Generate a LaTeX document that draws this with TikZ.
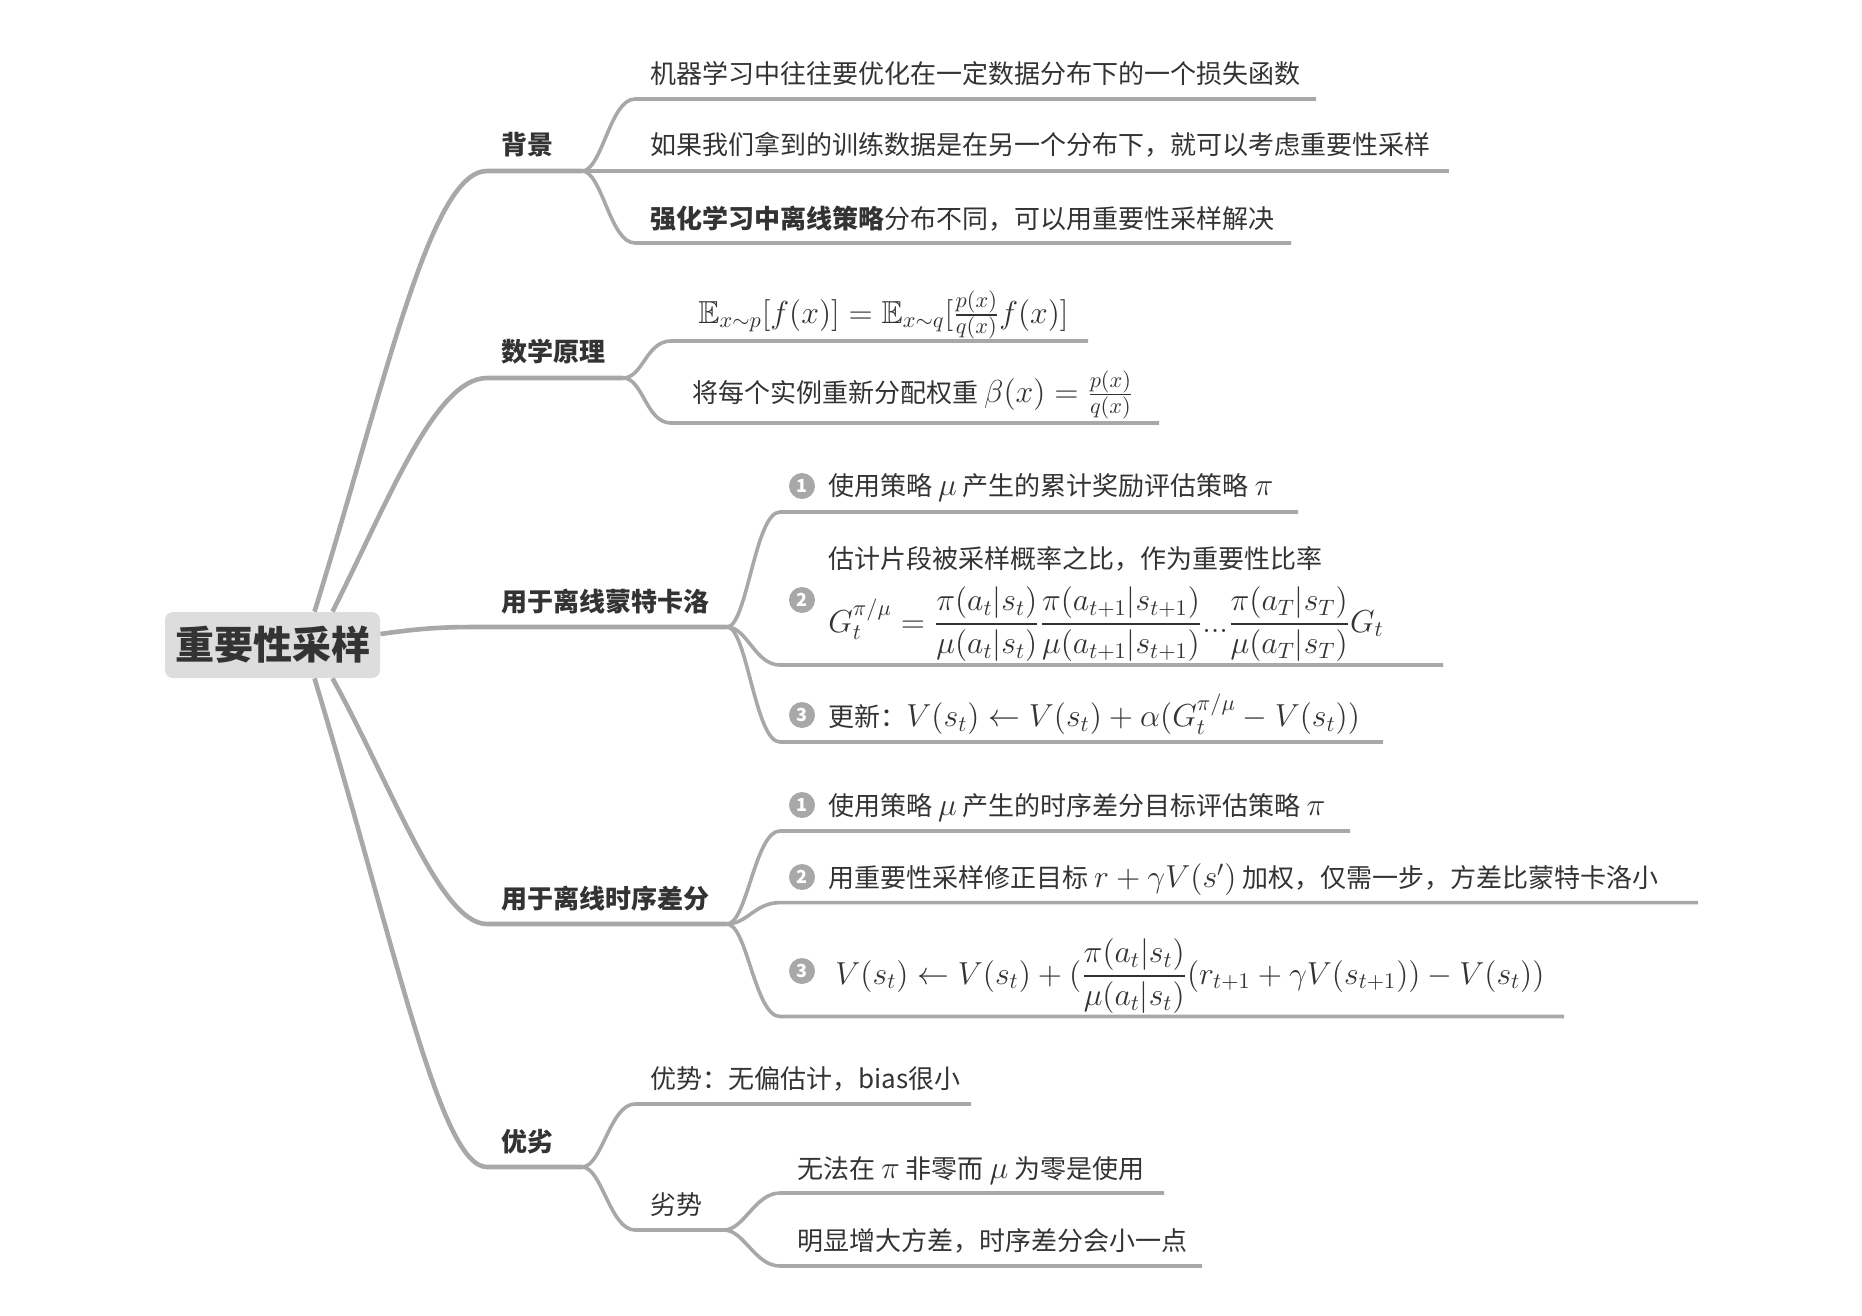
\documentclass[tikz,border=0pt]{standalone}
\usepackage{fix-cm}
\usepackage{amsmath,amssymb}
\usepackage{fontspec}
\setmainfont{Noto Sans CJK SC}
\definecolor{edge}{HTML}{A8A8A8}
\definecolor{ink}{HTML}{333333}
\definecolor{rootbg}{HTML}{DDDDDD}
\definecolor{dotbg}{HTML}{A8A8A8}
\newcommand{\mth}[1]{{\fontsize{15.9}{19}\selectfont$#1$}}

\begin{document}
\begin{tikzpicture}[
  x=0.5pt,y=-0.5pt,
  trunk/.style={draw=edge,line width=2.3pt},
  twig/.style={draw=edge,line width=1.8pt},
  topic/.style={anchor=west,inner sep=0,text=ink,font=\bfseries\fontsize{13}{16}\selectfont},
  leaf/.style={anchor=base west,inner sep=0,text=ink,font=\fontsize{13}{16}\selectfont},
  dot/.style={circle,fill=dotbg,text=white,inner sep=0,minimum size=13pt,font=\bfseries\fontsize{9}{9}\selectfont}
]
\useasboundingbox (0,0) rectangle (1862,1316);

\node[fill=rootbg,rounded corners=4pt,minimum width=107.5pt,minimum height=33pt,text=ink,
  font=\bfseries\fontsize{19.5}{22}\selectfont] (root) at (272.5,645) {重要性采样};

% main topics
\node[topic] (bg) at (501,145) {背景};
\node[topic] (math) at (501,351.5) {数学原理};
\node[topic] (mc) at (501,602) {用于离线蒙特卡洛};
\node[topic] (td) at (501,899) {用于离线时序差分};
\node[topic] (pc) at (501,1142) {优劣};

\coordinate (bgK) at (487,171);   \coordinate (bgF) at (582,171);
\coordinate (mathK) at (487,378); \coordinate (mathF) at (623,378);
\coordinate (mcK) at (487,627);   \coordinate (mcF) at (727,627);
\coordinate (tdK) at (487,924);   \coordinate (tdF) at (727,924);
\coordinate (pcK) at (487,1167);  \coordinate (pcF) at (582,1167);

\draw[trunk] ([xshift=21pt]root.north) .. controls (385,385) and (430,171) .. (bgK) -- (bgF);
\draw[trunk] ([xshift=30pt]root.north) .. controls (388,502) and (435,378) .. (mathK) -- (mathF);
\draw[trunk] ([yshift=5.5pt]root.east) .. controls (430,627) and (450,627) .. (mcK) -- (mcF);
\draw[trunk] ([xshift=30pt]root.south) .. controls (392,786) and (440,924) .. (tdK) -- (tdF);
\draw[trunk] ([xshift=21pt]root.south) .. controls (396,948) and (440,1167) .. (pcK) -- (pcF);

% background
\node[leaf] (bg1) at (650,84) {机器学习中往往要优化在一定数据分布下的一个损失函数};
\node[leaf] (bg2) at (650,155) {如果我们拿到的训练数据是在另一个分布下，就可以考虑重要性采样};
\node[leaf] (bg3) at (650,228) {\textbf{强化学习中离线策略}分布不同，可以用重要性采样解决};
\draw[twig] (bgF) .. controls +(20,0) and +(-25,0) .. ([shift={(-15,15)}]bg1.base west) -- ++(681,0);
\draw[twig] (bgF) -- ++(867,0);
\draw[twig] (bgF) .. controls +(20,0) and +(-25,0) .. ([shift={(-15,15)}]bg3.base west) -- ++(656,0);

% math
\node[leaf] (m1) at (698,323) {\mth{\mathbb{E}_{x\sim p}[f(x)] = \mathbb{E}_{x\sim q}[\frac{p(x)}{q(x)}f(x)]}};
\node[leaf] (m2) at (692,402.6) {将每个实例重新分配权重 \mth{\beta(x) = \frac{p(x)}{q(x)}}};
\draw[twig] (mathF) .. controls +(20,0) and +(-25,0) .. ([shift={(-27,18)}]m1.base west) -- ++(417,0);
\draw[twig] (mathF) .. controls +(20,0) and +(-25,0) .. ([shift={(-21,20.4)}]m2.base west) -- ++(488,0);

% monte carlo
\node[leaf] (mc1) at (828,495.6) {使用策略 \mth{\mu} 产生的累计奖励评估策略 \mth{\pi}};
\node[leaf] (mc2a) at (828,568.6) {估计片段被采样概率之比，作为重要性比率};
\node[leaf] (mc2) at (828,632) {\mth{G_t^{\pi/\mu} = \dfrac{\pi(a_t|s_t)}{\mu(a_t|s_t)}\dfrac{\pi(a_{t+1}|s_{t+1})}{\mu(a_{t+1}|s_{t+1})}...\dfrac{\pi(a_T|s_T)}{\mu(a_T|s_T)}G_t}};
\node[leaf] (mc3) at (828,726.6) {更新：\mth{V(s_t) \leftarrow V(s_t) + \alpha(G_t^{\pi/\mu} - V(s_t))}};
\node[dot] (mcd1) at ([shift={(-26,-9.6)}]mc1.base west) {1};
\node[dot] (mcd2) at ([shift={(-26,-32)}]mc2.base west) {2};
\node[dot] (mcd3) at ([shift={(-26,-11.6)}]mc3.base west) {3};
\draw[twig] (mcF) .. controls +(20,0) and +(-25,0) .. ([shift={(-48,16.4)}]mc1.base west) -- ++(518,0);
\draw[twig] (mcF) .. controls +(20,0) and +(-25,0) .. ([shift={(-48,33)}]mc2.base west) -- ++(663,0);
\draw[twig] (mcF) .. controls +(20,0) and +(-25,0) .. ([shift={(-48,15.4)}]mc3.base west) -- ++(603,0);

% temporal difference
\node[leaf] (td1) at (828,815.6) {使用策略 \mth{\mu} 产生的时序差分目标评估策略 \mth{\pi}};
\node[leaf] (td2) at (828,887.6) {用重要性采样修正目标 \mth{r + \gamma V(s')} 加权，仅需一步，方差比蒙特卡洛小};
\node[leaf] (td3) at (835,984) {\mth{V(s_t) \leftarrow V(s_t) + (\dfrac{\pi(a_t|s_t)}{\mu(a_t|s_t)}(r_{t+1} + \gamma V(s_{t+1})) - V(s_t))}};
\node[dot] (tdd1) at ([shift={(-26,-10.6)}]td1.base west) {1};
\node[dot] (tdd2) at ([shift={(-26,-10.6)}]td2.base west) {2};
\node[dot] (tdd3) at ([shift={(-33,-13)}]td3.base west) {3};
\draw[twig] (tdF) .. controls +(20,0) and +(-25,0) .. ([shift={(-48,15.4)}]td1.base west) -- ++(570,0);
\draw[twig] (tdF) .. controls +(20,0) and +(-25,0) .. ([shift={(-48,15)}]td2.base west) -- ++(918,0);
\draw[twig] (tdF) .. controls +(20,0) and +(-25,0) .. ([shift={(-55,32.5)}]td3.base west) -- ++(784,0);

% pros and cons
\node[leaf] (pc1) at (650,1088.6) {优势：无偏估计，bias很小};
\node[leaf] (pc2) at (650,1214.6) {劣势};
\node[leaf] (pz1) at (797,1178) {无法在 \mth{\pi} 非零而 \mth{\mu} 为零是使用};
\node[leaf] (pz2) at (797,1250.6) {明显增大方差，时序差分会小一点};
\draw[twig] (pcF) .. controls +(20,0) and +(-25,0) .. ([shift={(-15,15.4)}]pc1.base west) -- ++(336,0);
\draw[twig] (pcF) .. controls +(20,0) and +(-25,0) .. ([shift={(-15,15.4)}]pc2.base west) -- ++(89,0) coordinate (pc2F);
\draw[twig] (pc2F) .. controls +(20,0) and +(-25,0) .. ([shift={(-17,15)}]pz1.base west) -- ++(384,0);
\draw[twig] (pc2F) .. controls +(20,0) and +(-25,0) .. ([shift={(-17,15.4)}]pz2.base west) -- ++(422,0);
\end{tikzpicture}
\end{document}
